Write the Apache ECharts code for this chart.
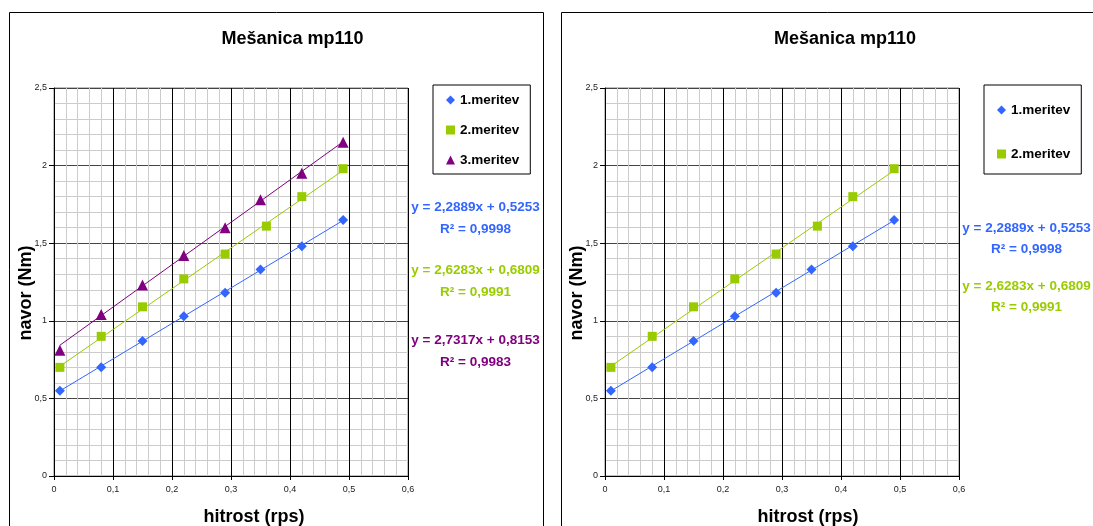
<!DOCTYPE html>
<html>
<head>
<meta charset="utf-8">
<script src="https://cdn.jsdelivr.net/npm/echarts@6/dist/echarts.min.js"></script>
<style>
  html, body { margin: 0; padding: 0; background: #fff; overflow: hidden; }
  #main { position: absolute; left: 0; top: 0; width: 1093px; height: 526px; }
</style>
</head>
<body>
<div id="main"></div>
<script>
// tick labels (Slovenian decimal comma)
const xTickLabels = ["0", "0,1", "0,2", "0,3", "0,4", "0,5", "0,6"];
const yTickLabels = ["0", "0,5", "1", "1,5", "2", "2,5"];

const seriesNames = ["1.meritev", "2.meritev", "3.meritev"];

const meritev1X = [0.01, 0.08, 0.15, 0.22, 0.29, 0.35, 0.42, 0.49];
const meritev1Y = [0.55, 0.70, 0.87, 1.03, 1.18, 1.33, 1.48, 1.65];
const meritev2X = [0.01, 0.08, 0.15, 0.22, 0.29, 0.36, 0.42, 0.49];
const meritev2Y = [0.70, 0.90, 1.09, 1.27, 1.43, 1.61, 1.80, 1.98];
const meritev3X = [0.01, 0.08, 0.15, 0.22, 0.29, 0.35, 0.42, 0.49];
const meritev3Y = [0.81, 1.04, 1.23, 1.42, 1.60, 1.78, 1.95, 2.15];

// linear trendlines as printed on the chart
const trendSlope = [2.2889, 2.6283, 2.7317];
const trendIntercept = [0.5253, 0.6809, 0.8153];
const trendLabels = ["y = 2,2889x + 0,5253", "y = 2,6283x + 0,6809", "y = 2,7317x + 0,8153"];
const r2Labels = ["R\u00b2 = 0,9998", "R\u00b2 = 0,9991", "R\u00b2 = 0,9983"];

const titleText = "Mešanica mp110";
const xName = "hitrost (rps)";
const yName = "navor (Nm)";

const allX = [meritev1X, meritev2X, meritev3X];
const allY = [meritev1Y, meritev2Y, meritev3Y];

const colors = ["#3366FF", "#99CC00", "#800080"];
const symbols = ["diamond", "rect", "triangle"];
const symbolSizes = [10, 9, 11];
const FONT = "'Liberation Sans', Arial, sans-serif";

const chart = echarts.init(document.getElementById("main"));

// two panels side by side
const panels = [
  {
    left: 54, nSeries: 3, titleX: 292.5, xNameX: 254, yNameX: 26, eqX: 475.5,
    eqY: [[207, 229.5], [270.5, 292], [340.5, 362]],
    legend: { left: 433, top: 85, padding: [8, 11, 7, 13], itemGap: 16 },
    frame: [9.5, 12.5, 534, 600],
  },
  {
    left: 605, nSeries: 2, titleX: 845, xNameX: 808, yNameX: 577, eqX: 1026.5,
    eqY: [[228, 249], [286.5, 307.5]],
    legend: { left: 984, top: 85, padding: [18, 11, 13, 13], itemGap: 30 },
    frame: [561.5, 12.5, 600, 600],
  },
];

const grids = [], xAxes = [], yAxes = [], series = [], legends = [], graphics = [];

panels.forEach((p, gi) => {
  grids.push({
    left: p.left, top: 88, width: 354, height: 388,
    show: true, borderColor: "#808080", borderWidth: 1,
    backgroundColor: "transparent",
  });

  xAxes.push({
    gridIndex: gi, type: "value", min: 0, max: 0.6, interval: 0.1,
    axisLine: { show: true, onZero: false, lineStyle: { color: "#000", width: 1 } },
    axisTick: { show: true, inside: false, length: 4, lineStyle: { color: "#000" } },
    axisLabel: {
      margin: 9, fontSize: 9, color: "#222", fontFamily: FONT,
      formatter: (v) => xTickLabels[Math.round(v * 10)],
    },
    splitLine: { show: true, lineStyle: { color: "#000", width: 1 } },
    minorTick: { show: false, splitNumber: 5 },
    minorSplitLine: { show: true, lineStyle: { color: "#cccccc", width: 1 } },
  });

  yAxes.push({
    gridIndex: gi, type: "value", min: 0, max: 2.5, interval: 0.5,
    axisLine: { show: true, onZero: false, lineStyle: { color: "#000", width: 1 } },
    axisTick: { show: true, inside: false, length: 5, lineStyle: { color: "#000" } },
    axisLabel: {
      margin: 7, fontSize: 9, color: "#222", fontFamily: FONT,
      formatter: (v) => yTickLabels[Math.round(v * 2)],
    },
    splitLine: { show: true, lineStyle: { color: "#444", width: 1 } },
    minorTick: { show: false, splitNumber: 5 },
    minorSplitLine: { show: true, lineStyle: { color: "#cccccc", width: 1 } },
  });

  for (let i = 0; i < p.nSeries; i++) {
    const xs = allX[i], ys = allY[i];
    const x0 = xs[0], x1 = xs[xs.length - 1];
    // trendline
    series.push({
      name: "trend" + gi + "_" + i,
      type: "line",
      xAxisIndex: gi, yAxisIndex: gi,
      data: [[x0, trendSlope[i] * x0 + trendIntercept[i]], [x1, trendSlope[i] * x1 + trendIntercept[i]]],
      showSymbol: false, silent: true,
      lineStyle: { color: colors[i], width: 1 },
      z: 3,
    });
    // points
    series.push({
      name: seriesNames[i],
      type: "scatter",
      xAxisIndex: gi, yAxisIndex: gi,
      data: xs.map((x, k) => [x, ys[k]]),
      symbol: symbols[i], symbolSize: symbolSizes[i],
      itemStyle: { color: colors[i], opacity: 1 },
      z: 4,
    });

    graphics.push({
      type: "text", silent: true,
      style: {
        text: trendLabels[i], x: p.eqX, y: p.eqY[i][0],
        align: "center", verticalAlign: "middle",
        font: "bold 13.5px " + FONT, fill: colors[i],
      },
    });
    graphics.push({
      type: "text", silent: true,
      style: {
        text: r2Labels[i], x: p.eqX, y: p.eqY[i][1],
        align: "center", verticalAlign: "middle",
        font: "bold 13.5px " + FONT, fill: colors[i],
      },
    });
  }

  legends.push({
    show: true, orient: "vertical",
    left: p.legend.left, top: p.legend.top,
    padding: p.legend.padding, itemGap: p.legend.itemGap,
    itemWidth: 9, itemHeight: 9,
    borderColor: "#000", borderWidth: 1,
    backgroundColor: "#fff",
    selectedMode: false,
    textStyle: { fontSize: 13.5, fontWeight: "bold", color: "#000", fontFamily: FONT },
    data: seriesNames.slice(0, p.nSeries).map((n, i) => ({ name: n, icon: symbols[i] })),
  });

  // panel frame
  graphics.push({
    type: "rect", silent: true, z: -10,
    shape: { x: p.frame[0], y: p.frame[1], width: p.frame[2], height: p.frame[3] },
    style: { fill: "#fff", stroke: "#000", lineWidth: 1 },
  });
  // chart title
  graphics.push({
    type: "text", silent: true,
    style: {
      text: titleText, x: p.titleX, y: 39.5,
      align: "center", verticalAlign: "middle",
      font: "bold 18px " + FONT, fill: "#000",
    },
  });
  // axis titles
  graphics.push({
    type: "text", silent: true,
    style: {
      text: xName, x: p.xNameX, y: 517,
      align: "center", verticalAlign: "middle",
      font: "bold 18px " + FONT, fill: "#000",
    },
  });
  graphics.push({
    type: "text", silent: true,
    x: p.yNameX, y: 293, rotation: Math.PI / 2,
    style: {
      text: yName, x: 0, y: 0,
      align: "center", verticalAlign: "middle",
      font: "bold 18px " + FONT, fill: "#000",
    },
  });
});

const options = {
  backgroundColor: "#fff",
  animation: false,
  grid: grids,
  xAxis: xAxes,
  yAxis: yAxes,
  legend: legends,
  series: series,
  graphic: graphics,
};

chart.setOption(options);

window.addEventListener("resize", () => chart.resize());
</script>
</body>
</html>
